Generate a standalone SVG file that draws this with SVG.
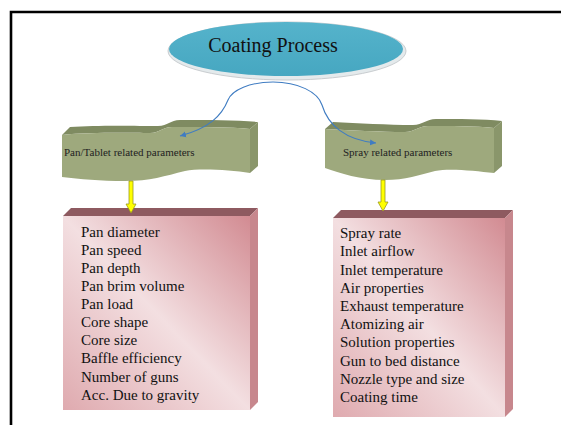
<svg xmlns="http://www.w3.org/2000/svg" width="561" height="425" viewBox="0 0 561 425">
<defs>
<style>
.title{font-family:"Liberation Serif","Times New Roman",serif;font-size:20px;fill:#111}
.wl{font-family:"Liberation Serif","Times New Roman",serif;font-size:11px;fill:#222}
.item{font-family:"Liberation Serif","Times New Roman",serif;font-size:15px;fill:#111}
.front{fill:#9ea97d}
.topf{fill:#7f8b61}
.side{fill:#8a966b}
.btop{fill:#8e5a60}
.bside{fill:#c7878d}
.conn{fill:none;stroke:#3f7cc2;stroke-width:1.1}
.yarrow{fill:#ffff00;stroke:#9a9a20;stroke-width:0.8}
</style>
<linearGradient id="pink" x1="1" y1="0" x2="0" y2="1">
<stop offset="0" stop-color="#d28b92"/>
<stop offset="0.5" stop-color="#f3dfe1"/>
<stop offset="1" stop-color="#dfaaaf"/>
</linearGradient>
<linearGradient id="blue" x1="0" y1="0" x2="0" y2="1">
<stop offset="0" stop-color="#55b3cb"/>
<stop offset="1" stop-color="#46a7c1"/>
</linearGradient>
<marker id="ah" markerWidth="8" markerHeight="8" refX="6" refY="4" orient="auto" markerUnits="userSpaceOnUse">
<path d="M0,1 L6,4 L0,7 Z" fill="#3f7cc2"/>
</marker>
</defs>
<rect width="561" height="425" fill="#ffffff"/>
<path d="M11,425 L11,12 L561,12" fill="none" stroke="#000" stroke-width="2.6"/>

<g id="coating-process">
<ellipse cx="287" cy="51" rx="119" ry="29" fill="#e4eaec" stroke="#c9cdd0" stroke-width="1"/>
<ellipse cx="286" cy="49" rx="117" ry="27" fill="url(#blue)"/>
<text class="title" x="273" y="52" text-anchor="middle">Coating Process</text>
</g>

<g id="pan-wave">
<path class="topf" d="M62,135 C90,132 130,133 150,133 C160,133 162,127 172,127 C200,127 230,127 250,129 L258,122 C238,120 208,120 180,120 C170,120 168,126 158,126 C138,126 98,125 70,127 Z"/>
<path class="front" d="M62,135 C90,132 130,133 150,133 C160,133 162,127 172,127 C200,127 230,127 250,129 L250,173 C230,170 200,168 185,171 C165,176 150,181 125,181 C100,181 80,179 62,177 Z"/>
<path class="side" d="M250,129 L258,122 L258,166 L250,173 Z"/>
<text class="wl" x="64" y="156">Pan/Tablet related parameters</text>
</g>

<g id="spray-wave">
<path class="topf" d="M325,129 C350,130 380,132 405,132 C415,132 418,126 428,126 C450,126 475,126 494,128 L502,121 C483,119 458,119 436,119 C426,119 423,125 413,125 C388,125 358,123 333,122 Z"/>
<path class="front" d="M325,129 C350,130 380,132 405,132 C415,132 418,126 428,126 C450,126 475,126 494,128 L494,173 C475,171 450,168 435,171 C420,175 405,180 385,180 C360,180 340,173 325,168 Z"/>
<path class="side" d="M494,128 L502,121 L502,166 L494,173 Z"/>
<text class="wl" x="343" y="156">Spray related parameters</text>
</g>

<g id="pan-box">
<path class="btop" d="M63,216 L71,208 L258,208 L250,216 Z"/>
<path class="bside" d="M250,216 L258,208 L258,402 L250,410 Z"/>
<rect x="63" y="216" width="187" height="194" fill="url(#pink)"/>
<text class="item" x="81" y="237">Pan diameter</text>
<text class="item" x="81" y="255">Pan speed</text>
<text class="item" x="81" y="273">Pan depth</text>
<text class="item" x="81" y="291">Pan brim volume</text>
<text class="item" x="81" y="309">Pan load</text>
<text class="item" x="81" y="327">Core shape</text>
<text class="item" x="81" y="345">Core size</text>
<text class="item" x="81" y="363">Baffle efficiency</text>
<text class="item" x="81" y="382">Number of guns</text>
<text class="item" x="81" y="400">Acc. Due to gravity</text>
</g>

<g id="spray-box">
<path class="btop" d="M333,218 L341,210 L513,210 L505,218 Z"/>
<path class="bside" d="M505,218 L513,210 L513,409 L505,417 Z"/>
<rect x="333" y="218" width="172" height="199" fill="url(#pink)"/>
<text class="item" x="340" y="238">Spray rate</text>
<text class="item" x="340" y="256">Inlet airflow</text>
<text class="item" x="340" y="274.5">Inlet temperature</text>
<text class="item" x="340" y="292.5">Air properties</text>
<text class="item" x="340" y="311">Exhaust temperature</text>
<text class="item" x="340" y="329">Atomizing air</text>
<text class="item" x="340" y="347">Solution properties</text>
<text class="item" x="340" y="365.5">Gun to bed distance</text>
<text class="item" x="340" y="384">Nozzle type and size</text>
<text class="item" x="340" y="401.5">Coating time</text>
</g>

<g id="connectors">
<path class="conn" d="M273,82 C250,82 232,90 228,100 C222,115 210,128 180,136" marker-end="url(#ah)"/>
<path class="conn" d="M273,82 C298,82 318,92 322,105 C328,125 345,140 376,143" marker-end="url(#ah)"/>
<path class="yarrow" d="M129,181 L133,181 L133,204 L136,204 L131,213 L126,204 L129,204 Z"/>
<path class="yarrow" d="M381,180 L385,180 L385,202 L388,202 L383,211 L378,202 L381,202 Z"/>
</g>
</svg>
